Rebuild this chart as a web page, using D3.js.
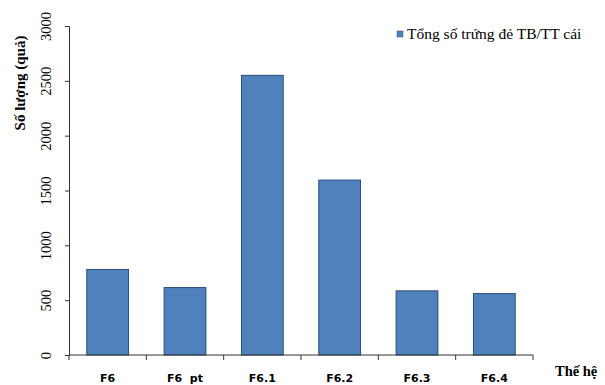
<!DOCTYPE html>
<html><head><meta charset="utf-8">
<script src="https://cdn.jsdelivr.net/npm/d3@7"></script>
<style>body{margin:0;background:#fff}</style>
</head><body>
<svg id="c" width="605" height="385"></svg>
<script>
const categories = ["F6", "F6  pt", "F6.1", "F6.2", "F6.3", "F6.4"];
const values = [780, 615, 2550, 1595, 585, 560];
const yTicks = [0, 500, 1000, 1500, 2000, 2500, 3000];
const seriesName = "Tổng số trứng đẻ TB/TT cái";

const svg = d3.select("#c");
const x = d3.scaleBand().domain(categories).range([69, 533]).paddingInner(0.46).paddingOuter(0.23);
const y = d3.scaleLinear().domain([0, 3000]).range([355, 26]);

// bars
svg.selectAll("rect.bar").data(values).join("rect")
  .attr("class", "bar")
  .attr("x", (d, i) => x(categories[i]))
  .attr("width", x.bandwidth())
  .attr("y", d => y(d))
  .attr("height", d => y(0) - y(d))
  .attr("fill", "#4F81BD").attr("stroke", "#2A4D78").attr("stroke-width", 1);

// y axis
const ya = svg.append("g").attr("transform", "translate(69,0)")
  .call(d3.axisLeft(y).tickValues(yTicks).tickSize(4).tickPadding(0).tickFormat(d3.format("d")));
ya.select(".domain").attr("stroke", "#333");
ya.selectAll(".tick line").attr("stroke", "#333");
ya.selectAll(".tick text").remove();
ya.selectAll(".tick").append("text")
  .attr("transform", "translate(-23,0) rotate(-90)")
  .attr("text-anchor", "middle").attr("dy", "0.35em")
  .attr("fill", "#000")
  .style("font-family", "'Liberation Serif', serif").style("font-size", "14.5px")
  .text(d => d);

// x axis
const xa = svg.append("g");
xa.append("line").attr("x1", 69).attr("x2", 533).attr("y1", 355).attr("y2", 355).attr("stroke", "#333");
const tickXs = [69].concat(categories.map((c, i) => 69 + (i + 1) * (533 - 69) / categories.length));
xa.selectAll("line.t").data(tickXs).join("line").attr("class", "t")
  .attr("x1", d => d).attr("x2", d => d).attr("y1", 355).attr("y2", 360).attr("stroke", "#333");
xa.selectAll("text").data(categories).join("text")
  .attr("x", c => x(c) + x.bandwidth() / 2).attr("y", 382)
  .attr("text-anchor", "middle")
  .style("font-family", "'DejaVu Sans', sans-serif").style("font-weight", "bold").style("font-size", "11px")
  .style("white-space", "pre").attr("xml:space", "preserve")
  .text(c => c);

// axis titles
svg.append("text").attr("transform", "translate(20,83) rotate(-90)")
  .attr("text-anchor", "middle").attr("dy", "0.35em")
  .style("font-family", "'Liberation Serif', serif").style("font-weight", "bold").style("font-size", "15px")
  .text("Số lượng (quả)");
svg.append("text").attr("x", 555).attr("y", 376)
  .style("font-family", "'Liberation Serif', serif").style("font-weight", "bold").style("font-size", "14.5px")
  .text("Thế hệ");

// legend
svg.append("rect").attr("x", 397).attr("y", 31).attr("width", 6).attr("height", 6)
  .attr("fill", "#4F81BD").attr("stroke", "#2A4D78").attr("stroke-width", 0.5);
svg.append("text").attr("x", 407).attr("y", 38.5)
  .style("font-family", "'Liberation Serif', serif").style("font-size", "15.5px")
  .text(seriesName);
</script>
</body></html>
